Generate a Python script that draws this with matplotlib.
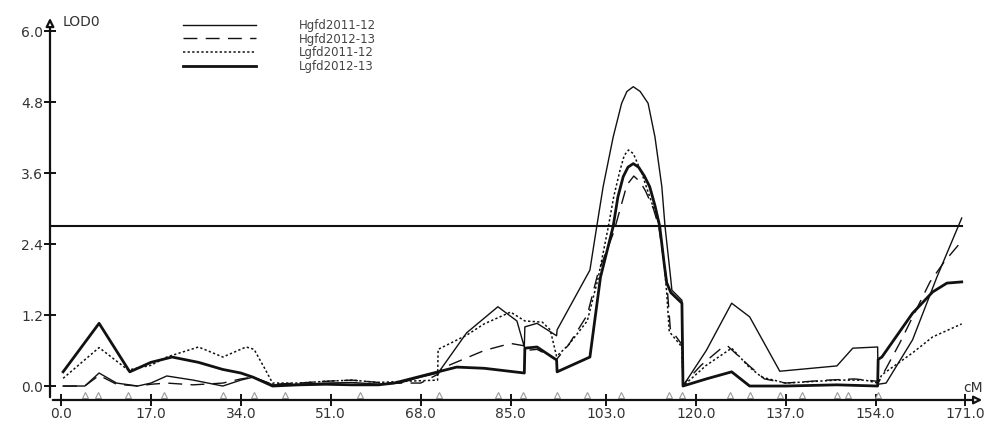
import matplotlib
matplotlib.use("Agg")
import matplotlib.pyplot as plt

# LOD profiles along the linkage group (cM, LOD)
hg11_cm = [0.4, 4.5, 7.2, 10.5, 14.5, 17, 20, 25, 30.6, 34, 36.3, 40, 45, 50, 55, 60, 64, 68,
           71.3, 76.7, 82.6, 86.2, 87.6, 87.7, 90, 93.7, 93.8, 100, 101.3, 102.5, 104.4, 106,
           107, 108.2, 109.5, 111, 112.3, 113.6, 114.2, 115.3, 115.5, 117.4, 117.6, 122, 126.8,
           130.2, 135.9, 146.7, 149.7, 154.4, 154.5, 156, 161, 165.6, 170.3]
hg11_lod = [0.0, 0.0, 0.22, 0.05, 0.0, 0.05, 0.17, 0.1, 0.0, 0.1, 0.15, 0.02, 0.03, 0.05, 0.06,
            0.03, 0.05, 0.15, 0.22, 0.9, 1.34, 1.1, 0.66, 1.0, 1.06, 0.85, 0.95, 1.96, 2.7, 3.37,
            4.21, 4.78, 4.98, 5.06, 4.98, 4.78, 4.21, 3.37, 2.7, 1.8, 1.62, 1.45, 0.0, 0.6, 1.40,
            1.17, 0.25, 0.34, 0.64, 0.66, 0.03, 0.05, 0.78, 1.84, 2.84]

hg12_cm = [0.4, 4.5, 7.2, 10.5, 14.5, 17, 20, 25, 30.6, 34, 36.3, 40, 45, 50, 55, 60, 64, 68,
           71.3, 72, 80, 85, 87.6, 87.7, 90, 93.7, 96, 99.5, 101.5, 104.5, 105.9, 107, 108.3,
           109.5, 110.5, 112, 113, 114.5, 115.2, 117.4, 117.6, 121, 124.6, 126, 130, 133, 137,
           145, 150, 154.4, 154.5, 158.6, 164.3, 167, 170.3]
hg12_lod = [0.0, 0.0, 0.18, 0.03, 0.0, 0.03, 0.05, 0.02, 0.05, 0.12, 0.15, 0.03, 0.05, 0.08,
            0.1, 0.06, 0.05, 0.05, 0.2, 0.3, 0.6, 0.72, 0.68, 0.6, 0.62, 0.45, 0.7, 1.2, 1.9,
            2.6, 3.05, 3.4, 3.55, 3.45, 3.3, 3.0, 2.7, 1.8, 0.97, 0.7, 0.02, 0.35, 0.62, 0.68,
            0.35, 0.12, 0.05, 0.1, 0.12, 0.08, 0.05, 0.73, 1.76, 2.1, 2.45]

lg11_cm = [0.4, 7.2, 12.7, 17, 20, 26, 30.6, 35, 36.5, 38.5, 40, 45, 50, 55, 60, 65, 71.2,
           71.3, 76.7, 80, 85, 87.7, 91, 92.5, 93.7, 96, 99.5, 101.5, 103.5, 104.5, 105.7, 106.5,
           107.3, 108.2, 109.8, 111.5, 113.2, 114, 114.5, 115, 117.4, 117.6, 122, 126.8, 130,
           132.5, 137, 146.7, 152, 154.4, 155.2, 161, 164.8, 170.3]
lg11_lod = [0.13, 0.65, 0.27, 0.35, 0.49, 0.66, 0.49, 0.66, 0.62, 0.3, 0.05, 0.05, 0.08, 0.1,
            0.06, 0.08, 0.1, 0.62, 0.86, 1.05, 1.25, 1.1, 1.08, 0.95, 0.5, 0.7, 1.1, 1.8, 2.7,
            3.2, 3.65, 3.9, 3.99, 3.93, 3.6, 3.15, 2.7, 2.1, 1.6, 0.92, 0.66, 0.0, 0.35, 0.64,
            0.33, 0.15, 0.05, 0.1, 0.1, 0.05, 0.19, 0.56, 0.83, 1.05]

lg12_cm = [0.4, 7.2, 13, 17, 21, 26, 30.6, 34, 36.3, 40, 45, 50, 55, 60, 63, 71.3, 74.8, 80,
           87.6, 87.7, 90, 93.7, 93.8, 100, 102, 104.4, 105.3, 106.3, 107.2, 108.2, 109.2, 110.3,
           111.3, 112.3, 113.2, 114, 114.5, 115.3, 117.4, 117.6, 122, 126.8, 130.2, 137, 146.7,
           154.4, 154.5, 155.2, 161, 164.8, 167.5, 170.3]
lg12_lod = [0.24, 1.06, 0.24, 0.4, 0.49, 0.4, 0.28, 0.22, 0.15, 0.0, 0.02, 0.03, 0.02, 0.02,
            0.05, 0.24, 0.32, 0.3, 0.22, 0.64, 0.66, 0.44, 0.24, 0.49, 1.84, 2.7, 3.2, 3.54, 3.7,
            3.76, 3.7, 3.55, 3.37, 3.05, 2.7, 2.1, 1.75, 1.58, 1.40, 0.0, 0.12, 0.24, 0.0, 0.0,
            0.02, 0.0, 0.45, 0.49, 1.23, 1.59, 1.74, 1.76]

series_names = ["Hgfd2011-12", "Hgfd2012-13", "Lgfd2011-12", "Lgfd2012-13"]
threshold = 2.71

marker_cm = [4.5, 7.0, 12.7, 19.5, 30.6, 36.5, 42.3, 56.5, 71.5, 82.6, 87.3, 93.8, 99.4,
             105.9, 114.9, 117.4, 126.5, 130.2, 135.9, 140.1, 146.7, 148.8, 154.4]

xticks = [0, 17, 34, 51, 68, 85, 103, 120, 137, 154, 171]
yticks = [0.0, 1.2, 2.4, 3.6, 4.8, 6.0]

fig = plt.figure(figsize=(10, 4.3), dpi=100)
ax = fig.add_axes([0.05, 0.0698, 0.935, 0.895])
xmin, xmax = -2.08, 174.7
ymin, ymax = -0.236, 6.27
ax.set_xlim(xmin, xmax)
ax.set_ylim(ymin, ymax)

ink = "#111111"
ax.plot(hg11_cm, hg11_lod, color=ink, lw=1.0, label=series_names[0])
ax.plot(hg12_cm, hg12_lod, color=ink, lw=1.0, dashes=(10, 6), label=series_names[1])
ax.plot(lg11_cm, lg11_lod, color=ink, lw=1.1, dashes=(1.5, 1.5), label=series_names[2])
ax.plot(lg12_cm, lg12_lod, color=ink, lw=2.0, label=series_names[3])

# significance threshold
ax.plot([xmin, 170.3], [threshold, threshold], color=ink, lw=1.5)

# markers along the axis
ax.plot(marker_cm, [-0.16] * len(marker_cm), linestyle="none", marker="^", ms=5,
        mfc="white", mec="#999999", mew=0.8, clip_on=False)

for s in ax.spines.values():
    s.set_visible(False)

ax.annotate("", xy=(1.0, 0), xytext=(0, 0), xycoords="axes fraction",
            arrowprops=dict(arrowstyle="-|>", color=ink, lw=1.6, mutation_scale=12,
                            fc="white"))
ax.annotate("", xy=(0, 1.0), xytext=(0, 0), xycoords="axes fraction",
            arrowprops=dict(arrowstyle="-|>", color=ink, lw=1.6, mutation_scale=12,
                            fc="white"))

ax.set_xticks(xticks)
ax.set_xticklabels([f"{v:.1f}" for v in xticks])
ax.set_yticks(yticks)
ax.set_yticklabels([f"{v:.1f}" for v in yticks])
ax.tick_params(axis="both", direction="inout", length=8, width=1.4, color=ink,
               labelsize=10, labelcolor="#333333")
ax.tick_params(axis="x", pad=1)
ax.tick_params(axis="y", pad=1)

fig.text(0.063, 1 - 22 / 430, "LOD0", fontsize=10, color="#333333", va="center", ha="left")
fig.text(0.963, 1 - 388 / 430, "cM", fontsize=10, color="#333333", va="center", ha="left")

ax.legend(loc="upper left", bbox_to_anchor=(0.183, 1 - 19 / 430),
          bbox_transform=fig.transFigure, frameon=False, fontsize=8.5,
          handlelength=6.2, handletextpad=3.6, labelspacing=0.05, borderpad=0,
          borderaxespad=0, labelcolor="#444444")

fig.savefig("out.png", dpi=100)
